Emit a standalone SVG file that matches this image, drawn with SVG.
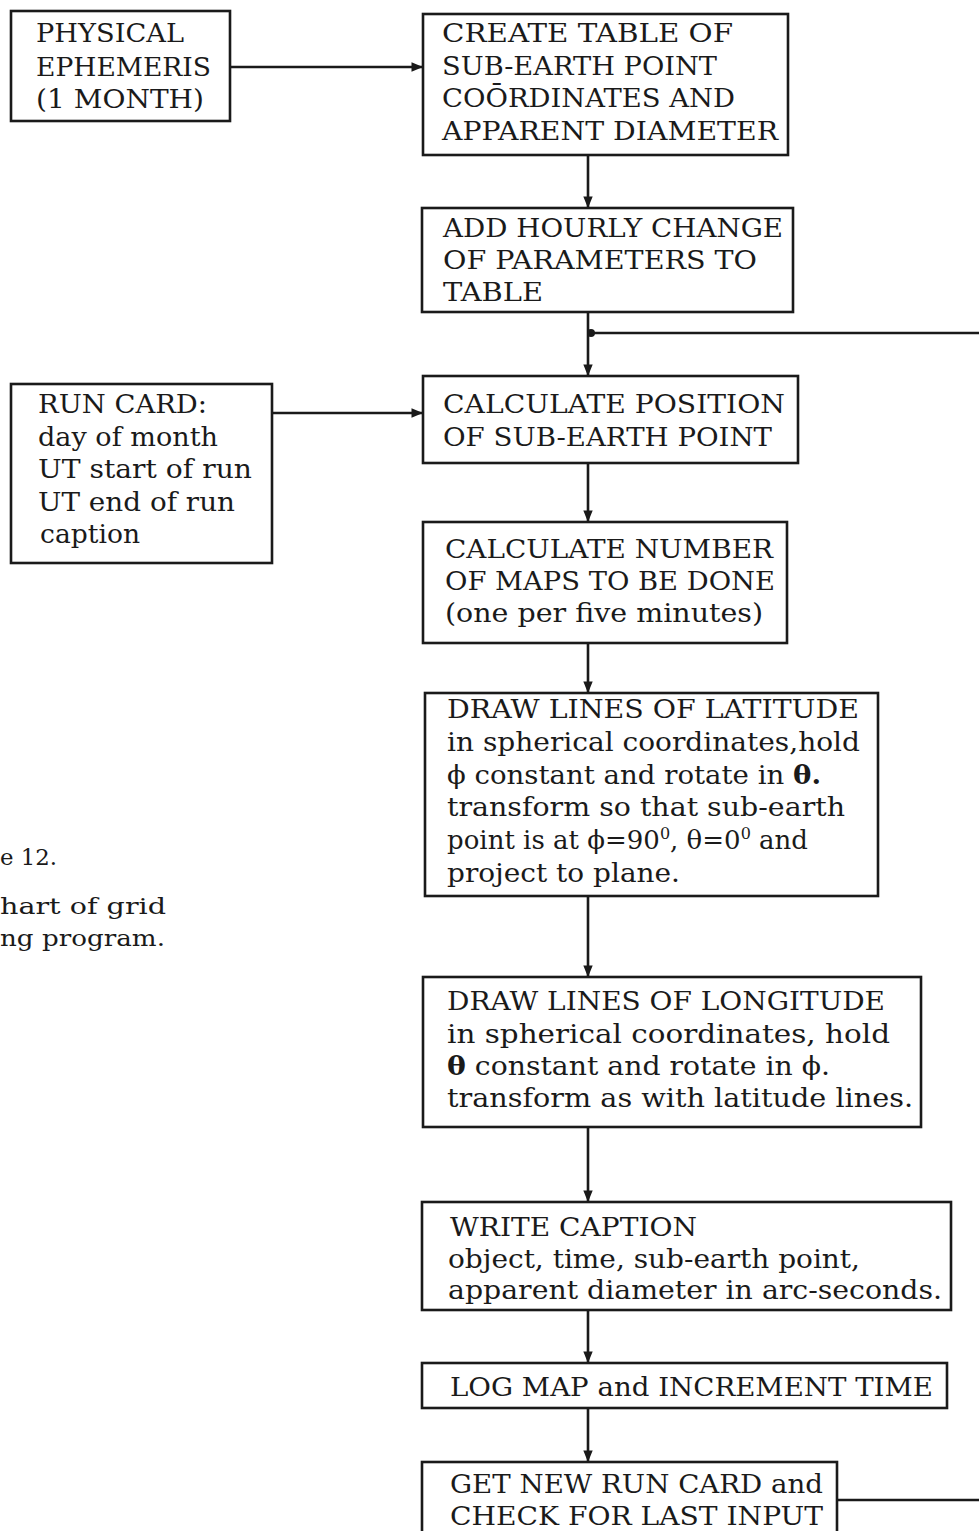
<svg xmlns="http://www.w3.org/2000/svg" width="979" height="1531" viewBox="0 0 979 1531">
<defs>
<style>
.box{fill:#fff;stroke:#1a1a1a;stroke-width:2.6}
.t{font-family:"DejaVu Serif","Liberation Serif",serif;font-size:26px;fill:#1a1a1a}
.c{font-family:"DejaVu Serif","Liberation Serif",serif;font-size:23px;fill:#1a1a1a}
.ln{stroke:#1a1a1a;stroke-width:2.6;fill:none}
</style>
<marker id="ah" viewBox="0 0 10 10" refX="9" refY="5" markerWidth="4.5" markerHeight="4.5" orient="auto" markerUnits="strokeWidth">
<path d="M0,1 L10,5 L0,9 Z" fill="#1a1a1a"/>
</marker>
</defs>
<rect width="979" height="1531" fill="#fff"/>

<g id="connectors">
<line class="ln" x1="230" y1="67" x2="422" y2="67" marker-end="url(#ah)"/>
<line class="ln" x1="588" y1="155" x2="588" y2="207" marker-end="url(#ah)"/>
<line class="ln" x1="588" y1="312" x2="588" y2="375" marker-end="url(#ah)"/>
<line class="ln" x1="590" y1="333" x2="979" y2="333"/>
<circle cx="591" cy="333" r="4" fill="#1a1a1a"/>
<line class="ln" x1="272" y1="413" x2="422" y2="413" marker-end="url(#ah)"/>
<line class="ln" x1="588" y1="463" x2="588" y2="521" marker-end="url(#ah)"/>
<line class="ln" x1="588" y1="643" x2="588" y2="692" marker-end="url(#ah)"/>
<line class="ln" x1="588" y1="896" x2="588" y2="976" marker-end="url(#ah)"/>
<line class="ln" x1="588" y1="1127" x2="588" y2="1201" marker-end="url(#ah)"/>
<line class="ln" x1="588" y1="1310" x2="588" y2="1362" marker-end="url(#ah)"/>
<line class="ln" x1="588" y1="1408" x2="588" y2="1461" marker-end="url(#ah)"/>
<line class="ln" x1="837" y1="1500" x2="979" y2="1500"/>
</g>

<g id="physical-ephemeris">
<rect class="box" x="11" y="11" width="219" height="110"/>
<text class="t" x="36" y="42" textLength="148" lengthAdjust="spacingAndGlyphs">PHYSICAL</text>
<text class="t" x="36" y="76" textLength="175" lengthAdjust="spacingAndGlyphs">EPHEMERIS</text>
<text class="t" x="36" y="108" textLength="168" lengthAdjust="spacingAndGlyphs">(1 MONTH)</text>
</g>

<g id="create-table">
<rect class="box" x="423" y="14" width="365" height="141"/>
<text class="t" x="442" y="42" textLength="291" lengthAdjust="spacingAndGlyphs">CREATE TABLE OF</text>
<text class="t" x="442" y="75" textLength="275" lengthAdjust="spacingAndGlyphs">SUB-EARTH POINT</text>
<text class="t" x="442" y="107" textLength="293" lengthAdjust="spacingAndGlyphs">COŌRDINATES AND</text>
<text class="t" x="442" y="140" textLength="336" lengthAdjust="spacingAndGlyphs">APPARENT DIAMETER</text>
</g>

<g id="add-hourly">
<rect class="box" x="422" y="208" width="371" height="104"/>
<text class="t" x="443" y="237" textLength="340" lengthAdjust="spacingAndGlyphs">ADD HOURLY CHANGE</text>
<text class="t" x="443" y="269" textLength="314" lengthAdjust="spacingAndGlyphs">OF PARAMETERS TO</text>
<text class="t" x="443" y="301" textLength="100" lengthAdjust="spacingAndGlyphs">TABLE</text>
</g>

<g id="calc-position">
<rect class="box" x="423" y="376" width="375" height="87"/>
<text class="t" x="443" y="413" textLength="342" lengthAdjust="spacingAndGlyphs">CALCULATE POSITION</text>
<text class="t" x="443" y="446" textLength="329" lengthAdjust="spacingAndGlyphs">OF SUB-EARTH POINT</text>
</g>

<g id="run-card">
<rect class="box" x="11" y="384" width="261" height="179"/>
<text class="t" x="38" y="413" textLength="169" lengthAdjust="spacingAndGlyphs">RUN CARD:</text>
<text class="t" x="38" y="446" textLength="180" lengthAdjust="spacingAndGlyphs">day of month</text>
<text class="t" x="38" y="478" textLength="214" lengthAdjust="spacingAndGlyphs">UT start of run</text>
<text class="t" x="38" y="511" textLength="197" lengthAdjust="spacingAndGlyphs">UT end of run</text>
<text class="t" x="40" y="543" textLength="100" lengthAdjust="spacingAndGlyphs">caption</text>
</g>

<g id="calc-number">
<rect class="box" x="423" y="522" width="364" height="121"/>
<text class="t" x="445" y="558" textLength="328" lengthAdjust="spacingAndGlyphs">CALCULATE NUMBER</text>
<text class="t" x="445" y="590" textLength="330" lengthAdjust="spacingAndGlyphs">OF MAPS TO BE DONE</text>
<text class="t" x="445" y="622" textLength="318" lengthAdjust="spacingAndGlyphs">(one per five minutes)</text>
</g>

<g id="draw-latitude">
<rect class="box" x="425" y="693" width="453" height="203"/>
<text class="t" x="447" y="718" textLength="412" lengthAdjust="spacingAndGlyphs">DRAW LINES OF LATITUDE</text>
<text class="t" x="447" y="751" textLength="413" lengthAdjust="spacingAndGlyphs">in spherical coordinates,hold</text>
<text class="t" x="447" y="784" textLength="374" lengthAdjust="spacingAndGlyphs">ϕ constant and rotate in <tspan font-weight="bold">θ.</tspan></text>
<text class="t" x="447" y="816" textLength="398" lengthAdjust="spacingAndGlyphs">transform so that sub-earth</text>
<text class="t" x="447" y="849" textLength="361" lengthAdjust="spacingAndGlyphs">point is at ϕ=90<tspan font-size="16" dy="-10">0</tspan><tspan dy="10">, θ=0</tspan><tspan font-size="16" dy="-10">0</tspan><tspan dy="10"> and</tspan></text>
<text class="t" x="447" y="882" textLength="233" lengthAdjust="spacingAndGlyphs">project to plane.</text>
</g>

<g id="draw-longitude">
<rect class="box" x="423" y="977" width="498" height="150"/>
<text class="t" x="447" y="1010" textLength="438" lengthAdjust="spacingAndGlyphs">DRAW LINES OF LONGITUDE</text>
<text class="t" x="447" y="1043" textLength="443" lengthAdjust="spacingAndGlyphs">in spherical coordinates, hold</text>
<text class="t" x="447" y="1075" textLength="383" lengthAdjust="spacingAndGlyphs"><tspan font-weight="bold">θ</tspan> constant and rotate in ϕ.</text>
<text class="t" x="447" y="1107" textLength="466" lengthAdjust="spacingAndGlyphs">transform as with latitude lines.</text>
</g>

<g id="write-caption">
<rect class="box" x="422" y="1202" width="529" height="108"/>
<text class="t" x="450" y="1236" textLength="247" lengthAdjust="spacingAndGlyphs">WRITE CAPTION</text>
<text class="t" x="448" y="1268" textLength="412" lengthAdjust="spacingAndGlyphs">object, time, sub-earth point,</text>
<text class="t" x="448" y="1299" textLength="494" lengthAdjust="spacingAndGlyphs">apparent diameter in arc-seconds.</text>
</g>

<g id="log-map">
<rect class="box" x="422" y="1363" width="525" height="45"/>
<text class="t" x="450" y="1396" textLength="483" lengthAdjust="spacingAndGlyphs">LOG MAP and INCREMENT TIME</text>
</g>

<g id="get-new-run-card">
<rect class="box" x="422" y="1462" width="415" height="80"/>
<text class="t" x="450" y="1493" textLength="373" lengthAdjust="spacingAndGlyphs">GET NEW RUN CARD and</text>
<text class="t" x="450" y="1525" textLength="373" lengthAdjust="spacingAndGlyphs">CHECK FOR LAST INPUT</text>
</g>

<g id="figure-caption">
<text class="c" x="0" y="865" textLength="57" lengthAdjust="spacingAndGlyphs">e 12.</text>
<text class="c" x="0" y="914" textLength="166" lengthAdjust="spacingAndGlyphs">hart of grid</text>
<text class="c" x="0" y="946" textLength="165" lengthAdjust="spacingAndGlyphs">ng program.</text>
</g>
</svg>
